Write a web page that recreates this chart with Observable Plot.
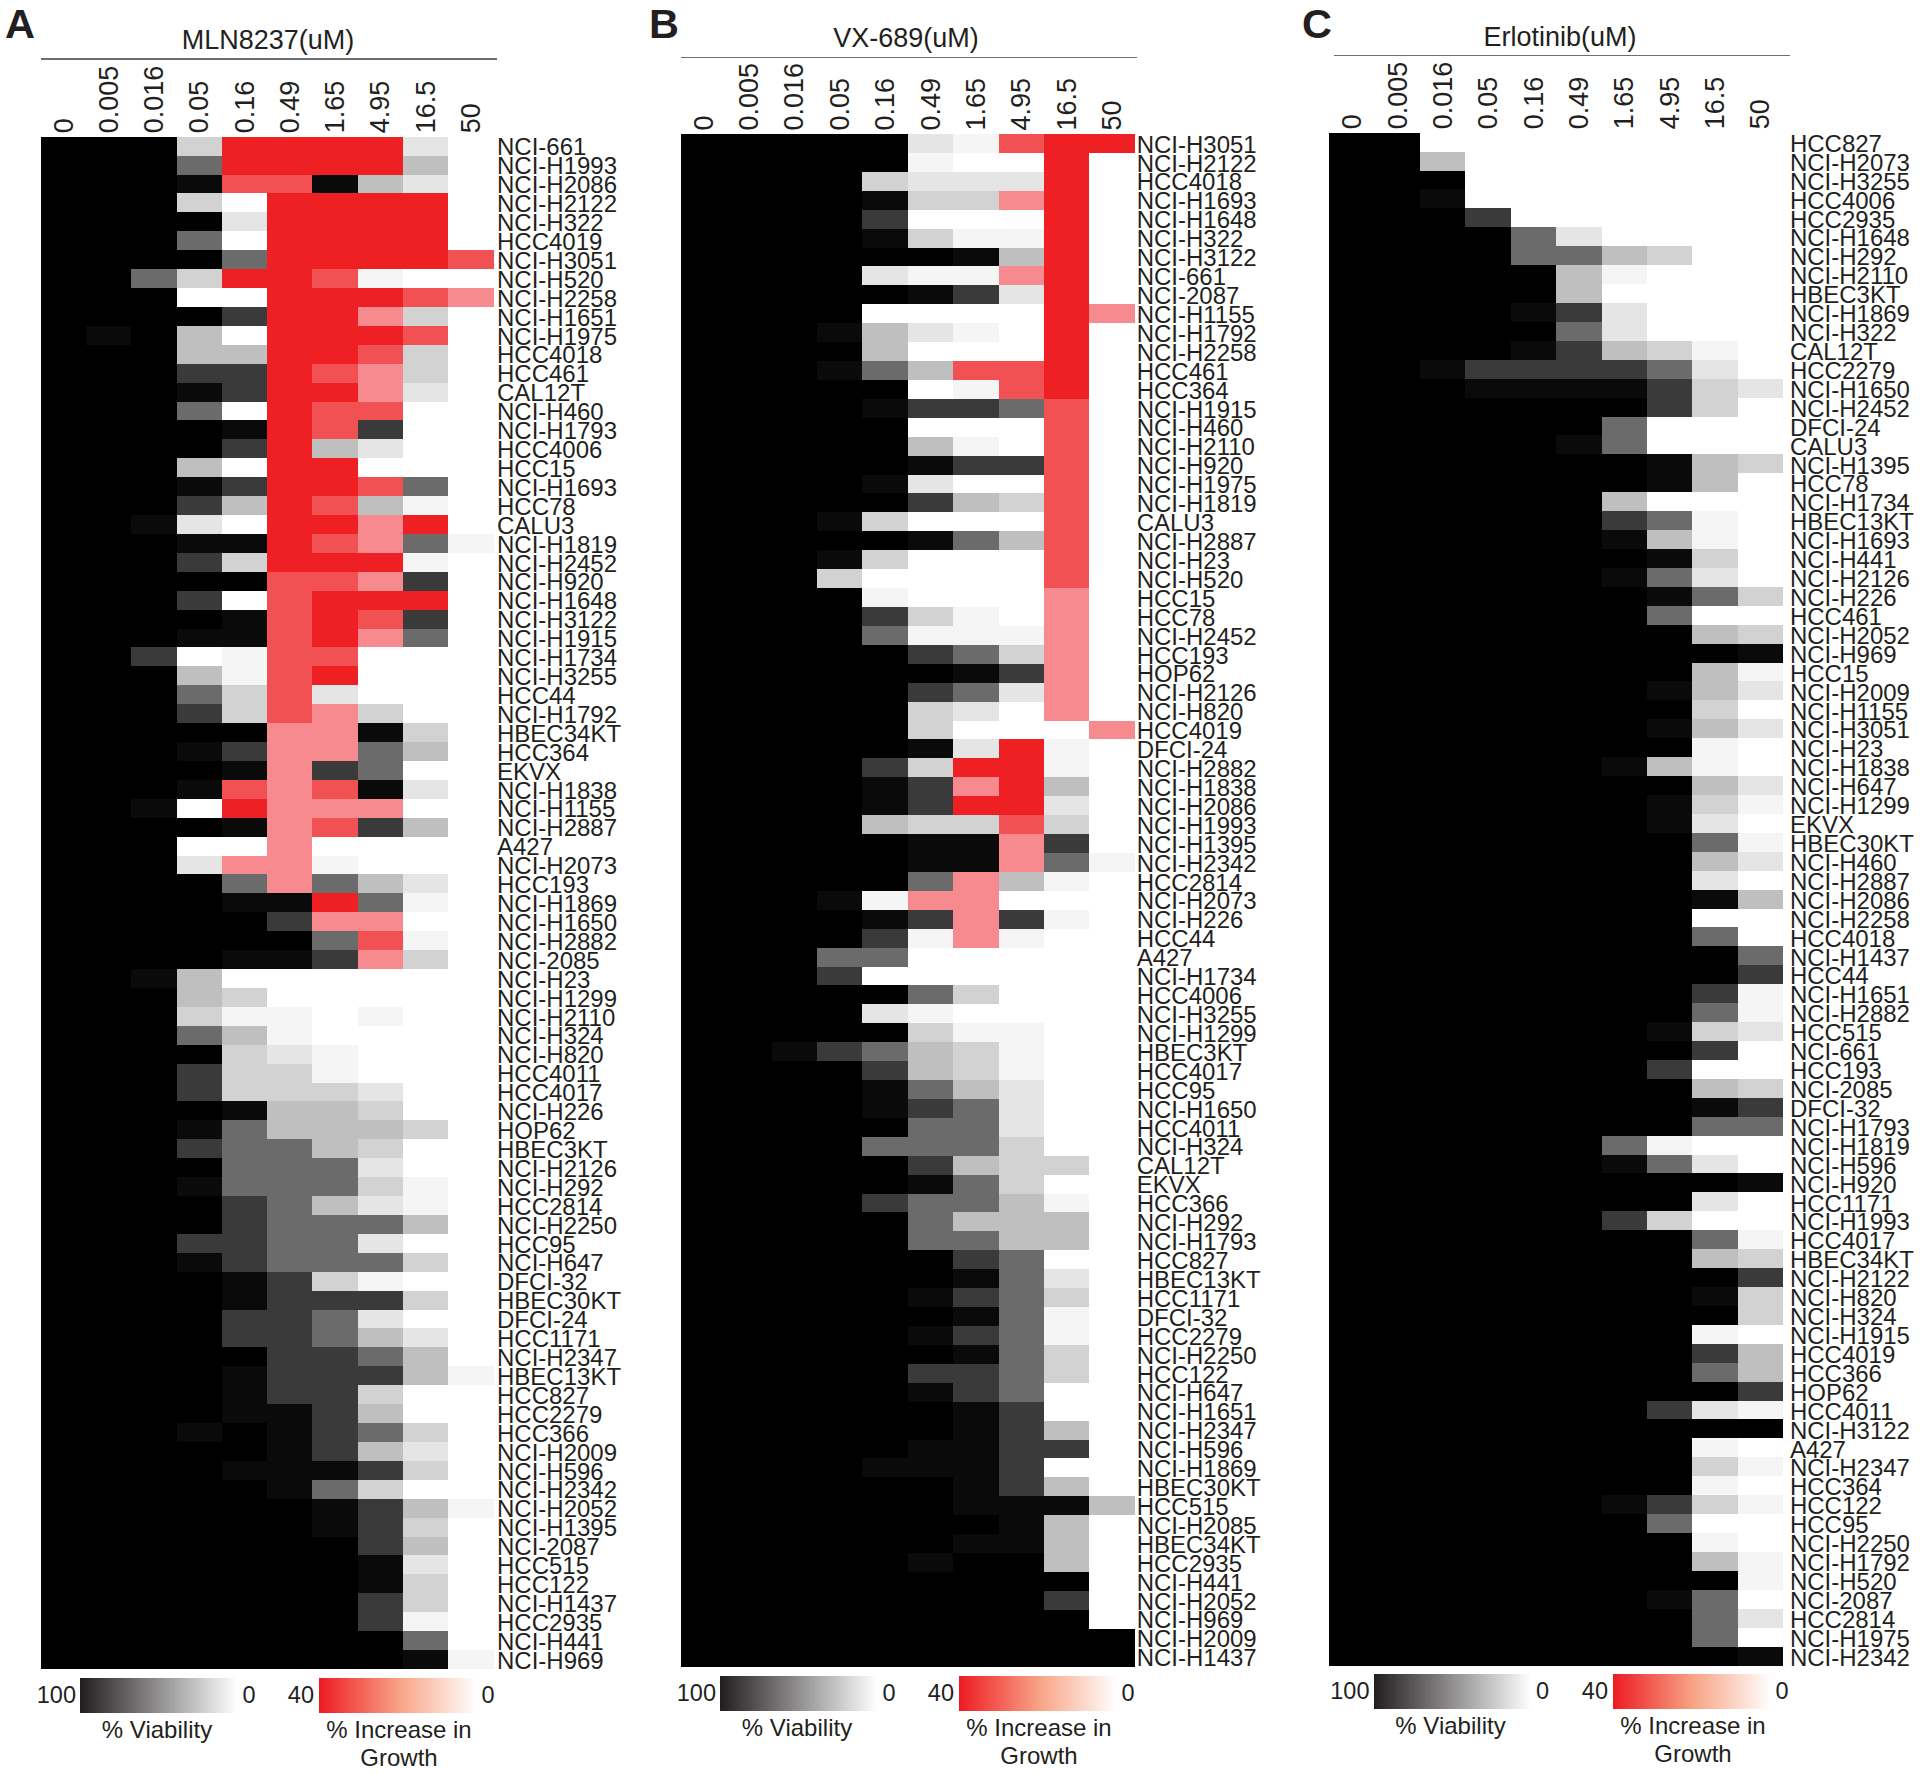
<!DOCTYPE html>
<html>
<head>
<meta charset="utf-8">
<script src="https://cdn.jsdelivr.net/npm/d3@7"></script>
<script src="https://cdn.jsdelivr.net/npm/@observablehq/plot@0.6"></script>
<style>
  html, body { margin: 0; padding: 0; background: #fff; }
  #root { position: relative; width: 1920px; height: 1773px; overflow: hidden; font-family: "Liberation Sans", Arial, sans-serif; color: #231f20; }
  #root > * { position: absolute; }
  .t { white-space: nowrap; line-height: 1; }
</style>
</head>
<body>
<div id="root"></div>
<script>
const concentrations = ["0","0.005","0.016","0.05","0.16","0.49","1.65","4.95","16.5","50"];

const labelsA = ["NCI-661","NCI-H1993","NCI-H2086","NCI-H2122","NCI-H322","HCC4019","NCI-H3051","NCI-H520","NCI-H2258","NCI-H1651",
"NCI-H1975","HCC4018","HCC461","CAL12T","NCI-H460","NCI-H1793","HCC4006","HCC15","NCI-H1693","HCC78",
"CALU3","NCI-H1819","NCI-H2452","NCI-H920","NCI-H1648","NCI-H3122","NCI-H1915","NCI-H1734","NCI-H3255","HCC44",
"NCI-H1792","HBEC34KT","HCC364","EKVX","NCI-H1838","NCI-H1155","NCI-H2887","A427","NCI-H2073","HCC193",
"NCI-H1869","NCI-H1650","NCI-H2882","NCI-2085","NCI-H23","NCI-H1299","NCI-H2110","NCI-H324","NCI-H820","HCC4011",
"HCC4017","NCI-H226","HOP62","HBEC3KT","NCI-H2126","NCI-H292","HCC2814","NCI-H2250","HCC95","NCI-H647",
"DFCI-32","HBEC30KT","DFCI-24","HCC1171","NCI-H2347","HBEC13KT","HCC827","HCC2279","HCC366","NCI-H2009",
"NCI-H596","NCI-H2342","NCI-H2052","NCI-H1395","NCI-2087","HCC515","HCC122","NCI-H1437","HCC2935","NCI-H441","NCI-H969"];

const labelsB = ["NCI-H3051","NCI-H2122","HCC4018","NCI-H1693","NCI-H1648","NCI-H322","NCI-H3122","NCI-661","NCI-2087","NCI-H1155",
"NCI-H1792","NCI-H2258","HCC461","HCC364","NCI-H1915","NCI-H460","NCI-H2110","NCI-H920","NCI-H1975","NCI-H1819",
"CALU3","NCI-H2887","NCI-H23","NCI-H520","HCC15","HCC78","NCI-H2452","HCC193","HOP62","NCI-H2126",
"NCI-H820","HCC4019","DFCI-24","NCI-H2882","NCI-H1838","NCI-H2086","NCI-H1993","NCI-H1395","NCI-H2342","HCC2814",
"NCI-H2073","NCI-H226","HCC44","A427","NCI-H1734","HCC4006","NCI-H3255","NCI-H1299","HBEC3KT","HCC4017",
"HCC95","NCI-H1650","HCC4011","NCI-H324","CAL12T","EKVX","HCC366","NCI-H292","NCI-H1793","HCC827",
"HBEC13KT","HCC1171","DFCI-32","HCC2279","NCI-H2250","HCC122","NCI-H647","NCI-H1651","NCI-H2347","NCI-H596",
"NCI-H1869","HBEC30KT","HCC515","NCI-H2085","HBEC34KT","HCC2935","NCI-H441","NCI-H2052","NCI-H969","NCI-H2009","NCI-H1437"];

const labelsC = ["HCC827","NCI-H2073","NCI-H3255","HCC4006","HCC2935","NCI-H1648","NCI-H292","NCI-H2110","HBEC3KT","NCI-H1869",
"NCI-H322","CAL12T","HCC2279","NCI-H1650","NCI-H2452","DFCI-24","CALU3","NCI-H1395","HCC78","NCI-H1734",
"HBEC13KT","NCI-H1693","NCI-H441","NCI-H2126","NCI-H226","HCC461","NCI-H2052","NCI-H969","HCC15","NCI-H2009",
"NCI-H1155","NCI-H3051","NCI-H23","NCI-H1838","NCI-H647","NCI-H1299","EKVX","HBEC30KT","NCI-H460","NCI-H2887",
"NCI-H2086","NCI-H2258","HCC4018","NCI-H1437","HCC44","NCI-H1651","NCI-H2882","HCC515","NCI-661","HCC193",
"NCI-2085","DFCI-32","NCI-H1793","NCI-H1819","NCI-H596","NCI-H920","HCC1171","NCI-H1993","HCC4017","HBEC34KT",
"NCI-H2122","NCI-H820","NCI-H324","NCI-H1915","HCC4019","HCC366","HOP62","HCC4011","NCI-H3122","A427",
"NCI-H2347","HCC364","HCC122","HCC95","NCI-H2250","NCI-H1792","NCI-H520","NCI-2087","HCC2814","NCI-H1975","NCI-H2342"];

// % viability when positive; % increase in growth as a negative number
const valuesA = [
[100,100,100,18,-40,-40,-40,-40,10,0],
[100,100,100,58,-40,-40,-40,-40,25,0],
[100,100,100,96,-30,-30,96,25,10,0],
[100,100,100,18,0,-40,-40,-40,-40,0],
[100,100,100,100,10,-40,-40,-40,-40,0],
[100,100,100,58,0,-40,-40,-40,-40,0],
[100,100,100,100,58,-40,-40,-40,-40,-30],
[100,100,58,18,-40,-40,-30,4,0,0],
[100,100,100,0,0,-40,-40,-40,-30,-20],
[100,100,100,100,77,-40,-40,-20,18,0],
[100,96,100,25,0,-40,-40,-40,-30,0],
[100,100,100,25,25,-40,-40,-30,18,0],
[100,100,100,77,77,-40,-30,-20,18,0],
[100,100,100,96,77,-40,-40,-20,10,0],
[100,100,100,58,0,-40,-30,-30,0,0],
[100,100,100,100,96,-40,-30,77,0,0],
[100,100,100,100,77,-40,25,10,0,0],
[100,100,100,25,0,-40,-40,0,0,0],
[100,100,100,96,77,-40,-40,-30,58,0],
[100,100,100,77,25,-40,-30,25,4,0],
[100,100,96,10,0,-40,-40,-20,-40,0],
[100,100,100,96,96,-40,-30,-20,58,4],
[100,100,100,77,18,-40,-40,-40,4,0],
[100,100,100,100,100,-30,-30,-20,77,0],
[100,100,100,77,0,-30,-40,-40,-40,0],
[100,100,100,100,96,-30,-40,-30,77,0],
[100,100,100,96,96,-30,-40,-20,58,0],
[100,100,77,0,4,-30,-30,0,0,0],
[100,100,100,25,4,-30,-40,0,0,0],
[100,100,100,58,18,-30,10,0,0,0],
[100,100,100,77,18,-30,-20,18,0,0],
[100,100,100,100,100,-20,-20,96,18,0],
[100,100,100,96,77,-20,-20,58,25,0],
[100,100,100,100,96,-20,77,58,0,0],
[100,100,100,96,-30,-20,-30,96,10,0],
[100,100,96,0,-40,-20,-20,-20,0,0],
[100,100,100,100,96,-20,-30,77,25,0],
[100,100,100,0,0,-20,0,0,0,0],
[100,100,100,10,-20,-20,4,0,0,0],
[100,100,100,100,58,-20,58,25,10,0],
[100,100,100,100,96,96,-40,58,4,0],
[100,100,100,100,100,77,-20,-20,0,0],
[100,100,100,100,100,100,58,-30,4,0],
[100,100,100,100,96,96,77,-20,18,0],
[100,100,96,25,0,0,0,0,0,0],
[100,100,100,25,18,0,0,0,0,0],
[100,100,100,18,4,4,0,4,0,0],
[100,100,100,58,25,4,0,0,0,0],
[100,100,100,100,18,10,4,0,0,0],
[100,100,100,77,18,18,4,0,0,0],
[100,100,100,77,18,18,18,10,0,0],
[100,100,100,100,96,25,25,18,0,0],
[100,100,100,96,58,25,25,25,18,0],
[100,100,100,77,58,58,25,18,0,0],
[100,100,100,100,58,58,58,10,0,0],
[100,100,100,96,58,58,58,18,4,0],
[100,100,100,100,77,58,25,10,4,0],
[100,100,100,100,77,58,58,58,25,0],
[100,100,100,77,77,58,58,10,0,0],
[100,100,100,96,77,58,58,58,18,0],
[100,100,100,100,96,77,18,4,0,0],
[100,100,100,100,96,77,77,77,18,0],
[100,100,100,100,77,77,58,10,0,0],
[100,100,100,100,77,77,58,25,10,0],
[100,100,100,100,100,77,77,58,25,0],
[100,100,100,100,96,77,77,77,25,4],
[100,100,100,100,96,77,77,18,0,0],
[100,100,100,100,96,96,77,25,0,0],
[100,100,100,96,100,96,77,58,18,0],
[100,100,100,100,100,96,77,25,10,0],
[100,100,100,100,96,96,96,77,18,0],
[100,100,100,100,100,96,58,18,0,0],
[100,100,100,100,100,100,96,77,25,4],
[100,100,100,100,100,100,96,77,18,0],
[100,100,100,100,100,100,100,77,25,0],
[100,100,100,100,100,100,100,96,10,0],
[100,100,100,100,100,100,100,96,18,0],
[100,100,100,100,100,100,100,77,18,0],
[100,100,100,100,100,100,100,77,4,0],
[100,100,100,100,100,100,100,100,58,0],
[100,100,100,100,100,100,100,100,96,4]];

const valuesB = [
[100,100,100,100,100,10,4,-30,-40,-40],
[100,100,100,100,100,4,0,0,-40,0],
[100,100,100,100,18,10,10,10,-40,0],
[100,100,100,100,96,18,18,-20,-40,0],
[100,100,100,100,77,0,0,0,-40,0],
[100,100,100,100,96,18,4,4,-40,0],
[100,100,100,100,100,100,96,25,-40,0],
[100,100,100,100,10,4,4,-20,-40,0],
[100,100,100,100,100,96,77,10,-40,0],
[100,100,100,100,0,0,0,0,-40,-20],
[100,100,100,96,25,10,4,0,-40,0],
[100,100,100,100,25,0,0,0,-40,0],
[100,100,100,96,58,25,-30,-30,-40,0],
[100,100,100,100,100,0,4,-30,-40,0],
[100,100,100,100,96,77,77,58,-30,0],
[100,100,100,100,100,0,0,0,-30,0],
[100,100,100,100,100,25,4,0,-30,0],
[100,100,100,100,100,96,77,77,-30,0],
[100,100,100,100,96,10,0,0,-30,0],
[100,100,100,100,100,77,25,18,-30,0],
[100,100,100,96,18,0,0,0,-30,0],
[100,100,100,100,100,96,58,25,-30,0],
[100,100,100,96,18,0,0,0,-30,0],
[100,100,100,18,0,0,0,0,-30,0],
[100,100,100,100,4,0,0,0,-20,0],
[100,100,100,100,77,18,4,0,-20,0],
[100,100,100,100,58,4,4,4,-20,0],
[100,100,100,100,100,77,58,18,-20,0],
[100,100,100,100,100,100,96,77,-20,0],
[100,100,100,100,100,77,58,10,-20,0],
[100,100,100,100,100,18,10,0,-20,0],
[100,100,100,100,100,18,0,0,0,-20],
[100,100,100,100,100,96,10,-40,4,0],
[100,100,100,100,77,18,-40,-40,4,0],
[100,100,100,100,96,77,-20,-40,25,0],
[100,100,100,100,96,77,-40,-40,10,0],
[100,100,100,100,25,18,18,-30,18,0],
[100,100,100,100,100,96,96,-20,77,0],
[100,100,100,100,100,96,96,-20,58,4],
[100,100,100,100,100,58,-20,25,4,0],
[100,100,100,96,4,-20,-20,0,0,0],
[100,100,100,100,96,77,-20,77,4,0],
[100,100,100,100,77,4,-20,4,0,0],
[100,100,100,58,58,0,0,0,0,0],
[100,100,100,77,0,0,0,0,0,0],
[100,100,100,100,100,58,18,0,0,0],
[100,100,100,100,10,4,0,0,0,0],
[100,100,100,100,100,18,4,4,0,0],
[100,100,96,77,58,25,18,4,0,0],
[100,100,100,100,77,25,18,4,0,0],
[100,100,100,100,96,58,25,10,0,0],
[100,100,100,100,96,77,58,10,0,0],
[100,100,100,100,100,58,58,10,0,0],
[100,100,100,100,58,58,58,18,0,0],
[100,100,100,100,100,77,25,18,18,0],
[100,100,100,100,100,96,58,18,0,0],
[100,100,100,100,77,58,58,25,4,0],
[100,100,100,100,100,58,25,25,25,0],
[100,100,100,100,100,58,58,25,25,0],
[100,100,100,100,100,100,77,58,0,0],
[100,100,100,100,100,100,96,58,10,0],
[100,100,100,100,100,96,77,58,18,0],
[100,100,100,100,100,100,96,58,4,0],
[100,100,100,100,100,96,77,58,4,0],
[100,100,100,100,100,100,96,58,18,0],
[100,100,100,100,100,77,77,58,18,0],
[100,100,100,100,100,96,77,58,0,0],
[100,100,100,100,100,100,96,77,0,0],
[100,100,100,100,100,100,96,77,25,0],
[100,100,100,100,100,96,96,77,77,0],
[100,100,100,100,96,96,96,77,0,0],
[100,100,100,100,100,100,96,77,25,0],
[100,100,100,100,100,100,96,96,96,25],
[100,100,100,100,100,100,100,96,25,0],
[100,100,100,100,100,100,96,96,25,0],
[100,100,100,100,100,96,100,100,25,0],
[100,100,100,100,100,100,100,100,100,0],
[100,100,100,100,100,100,100,100,77,0],
[100,100,100,100,100,100,100,100,100,0],
[100,100,100,100,100,100,100,100,100,100],
[100,100,100,100,100,100,100,100,100,100]];

const valuesC = [
[100,100,0,0,0,0,0,0,0,0],
[100,100,25,0,0,0,0,0,0,0],
[100,100,100,0,0,0,0,0,0,0],
[100,100,96,0,0,0,0,0,0,0],
[100,100,100,77,0,0,0,0,0,0],
[100,100,100,100,58,10,0,0,0,0],
[100,100,100,100,58,58,25,18,0,0],
[100,100,100,100,100,25,4,0,0,0],
[100,100,100,100,100,25,0,0,0,0],
[100,100,100,100,96,77,10,0,0,0],
[100,100,100,100,100,58,10,0,0,0],
[100,100,100,100,96,77,25,18,4,0],
[100,100,96,77,77,77,77,58,10,0],
[100,100,100,96,96,96,96,77,18,10],
[100,100,100,100,100,100,100,77,18,0],
[100,100,100,100,100,100,58,0,0,0],
[100,100,100,100,100,96,58,0,0,0],
[100,100,100,100,100,100,100,96,25,18],
[100,100,100,100,100,100,100,96,25,0],
[100,100,100,100,100,100,25,0,0,0],
[100,100,100,100,100,100,77,58,4,0],
[100,100,100,100,100,100,96,25,4,0],
[100,100,100,100,100,100,100,96,18,0],
[100,100,100,100,100,100,96,58,10,0],
[100,100,100,100,100,100,100,96,58,18],
[100,100,100,100,100,100,100,58,0,0],
[100,100,100,100,100,100,100,100,25,18],
[100,100,100,100,100,100,100,100,100,96],
[100,100,100,100,100,100,100,100,25,4],
[100,100,100,100,100,100,100,96,25,10],
[100,100,100,100,100,100,100,100,18,0],
[100,100,100,100,100,100,100,96,25,10],
[100,100,100,100,100,100,100,100,4,0],
[100,100,100,100,100,100,96,25,4,0],
[100,100,100,100,100,100,100,100,25,10],
[100,100,100,100,100,100,100,96,18,4],
[100,100,100,100,100,100,100,96,10,0],
[100,100,100,100,100,100,100,100,58,4],
[100,100,100,100,100,100,100,100,25,10],
[100,100,100,100,100,100,100,100,10,0],
[100,100,100,100,100,100,100,100,96,25],
[100,100,100,100,100,100,100,100,0,0],
[100,100,100,100,100,100,100,100,58,0],
[100,100,100,100,100,100,100,100,100,58],
[100,100,100,100,100,100,100,100,100,77],
[100,100,100,100,100,100,100,100,77,4],
[100,100,100,100,100,100,100,100,58,4],
[100,100,100,100,100,100,100,96,18,10],
[100,100,100,100,100,100,100,100,77,0],
[100,100,100,100,100,100,100,77,0,0],
[100,100,100,100,100,100,100,100,25,18],
[100,100,100,100,100,100,100,100,96,77],
[100,100,100,100,100,100,100,100,58,58],
[100,100,100,100,100,100,58,4,0,0],
[100,100,100,100,100,100,96,58,10,0],
[100,100,100,100,100,100,100,100,100,96],
[100,100,100,100,100,100,100,100,10,0],
[100,100,100,100,100,100,77,18,0,0],
[100,100,100,100,100,100,100,100,58,4],
[100,100,100,100,100,100,100,100,25,18],
[100,100,100,100,100,100,100,100,100,77],
[100,100,100,100,100,100,100,100,96,18],
[100,100,100,100,100,100,100,100,100,18],
[100,100,100,100,100,100,100,100,4,0],
[100,100,100,100,100,100,100,100,77,25],
[100,100,100,100,100,100,100,100,58,25],
[100,100,100,100,100,100,100,100,100,77],
[100,100,100,100,100,100,100,77,10,4],
[100,100,100,100,100,100,100,100,100,100],
[100,100,100,100,100,100,100,100,4,0],
[100,100,100,100,100,100,100,100,18,4],
[100,100,100,100,100,100,100,100,4,0],
[100,100,100,100,100,100,96,77,18,4],
[100,100,100,100,100,100,100,58,0,0],
[100,100,100,100,100,100,100,100,4,0],
[100,100,100,100,100,100,100,100,25,4],
[100,100,100,100,100,100,100,100,100,4],
[100,100,100,100,100,100,100,96,58,0],
[100,100,100,100,100,100,100,100,58,10],
[100,100,100,100,100,100,100,100,58,0],
[100,100,100,100,100,100,100,100,100,96]];

const colorThresholds = [-35,-25,-10,2,7,14,21,40,67,86,98];
const colorRange = ["#ee2024","#f15152","#f68a8e","#ffffff","#f5f5f5","#e5e5e5","#d2d2d2","#bfbfbf","#6b6b6b","#3a3a3a","#0a0a0a","#000000"];

const panels = [
  {letter:"A", drug:"MLN8237(uM)", labels:labelsA, values:valuesA, origin:0,    left:40.8,   right:493.5,  top:136.7, bottom:1669,   ruleY:59,   ruleL:41,   ruleR:497,  titleX:268,  titleB:50, letterX:5,    legendTop:1678, grey:80,   red:319,   labelPad:3, labelDy:1},
  {letter:"B", drug:"VX-689(uM)",  labels:labelsB, values:valuesB, origin:640,  left:680.8,  right:1134.7, top:134,   bottom:1666.6, ruleY:57.3, ruleL:681,  ruleR:1137, titleX:906,  titleB:48, letterX:649,  legendTop:1676, grey:720,  red:959,   labelPad:1.5, labelDy:1},
  {letter:"C", drug:"Erlotinib(uM)",labels:labelsC, values:valuesC, origin:1280, left:1329.4, right:1782.9, top:132.7, bottom:1665.5, ruleY:55.7, ruleL:1334, ruleR:1790, titleX:1560, titleB:47, letterX:1302, legendTop:1674, grey:1373.5, red:1613, labelPad:6.5, labelDy:1.5}
];

const root = document.getElementById("root");

function text(str, x, baseline, size, anchor = "start", weight = "normal") {
  const d = document.createElement("div");
  d.className = "t";
  d.textContent = str;
  d.style.fontSize = size + "px";
  d.style.fontWeight = weight;
  d.style.top = (baseline - size * 0.85) + "px";
  d.style.lineHeight = "1";
  if (anchor === "middle") { d.style.left = x + "px"; d.style.transform = "translateX(-50%)"; }
  else if (anchor === "end") { d.style.right = (1920 - x) + "px"; }
  else { d.style.left = x + "px"; }
  root.appendChild(d);
}

function ramp(x, top, w, h, domain, range) {
  const lg = Plot.legend({
    color: {type: "linear", domain, range},
    width: w, height: h, marginTop: 0, marginBottom: 0, marginLeft: 0, marginRight: 0,
    ticks: 0, tickSize: 0, label: null,
    style: {background: "transparent"}
  });
  lg.style.left = x + "px";
  lg.style.top = top + "px";
  lg.style.margin = "0";
  root.appendChild(lg);
}

for (const p of panels) {
  const cells = p.values.flatMap((row, i) => row.map((v, j) => ({line: p.labels[i], conc: concentrations[j], v})));
  const W = 640, panelLeft = p.left - p.origin, panelRight = p.right - p.origin;
  const svg = Plot.plot({
    width: W,
    height: p.bottom + 8,
    marginLeft: panelLeft,
    marginRight: W - panelRight,
    marginTop: p.top,
    marginBottom: 8,
    style: {background: "transparent", fontFamily: '"Liberation Sans", Arial, sans-serif', color: "#231f20", overflow: "visible"},
    x: {type: "band", domain: concentrations, padding: 0, round: false, label: null},
    y: {type: "band", domain: p.labels, padding: 0, round: false, label: null},
    color: {type: "threshold", domain: colorThresholds, range: colorRange},
    marks: [
      Plot.cell(cells, {x: "conc", y: "line", fill: "v", shapeRendering: "crispEdges"}),
      Plot.axisX({anchor: "top", tickSize: 0, tickRotate: -90, tickPadding: 4, fontSize: 27, label: null}),
      Plot.axisY({anchor: "right", tickSize: 0, tickPadding: p.labelPad, dy: p.labelDy, fontSize: 24, label: null})
    ]
  });
  svg.style.left = p.origin + "px";
  svg.style.top = "0px";
  root.appendChild(svg);

  text(p.letter, p.letterX, 38.5, 41.5, "start", "bold");
  text(p.drug, p.titleX, p.titleB, 27, "middle");
  const rule = document.createElement("div");
  rule.style.cssText = `left:${p.ruleL}px;top:${p.ruleY - 0.75}px;width:${p.ruleR - p.ruleL}px;height:1.5px;background:#6d6e71`;
  root.appendChild(rule);

  ramp(p.grey, p.legendTop, 157, 35, [100, 0], ["#231f20", "#ffffff"]);
  ramp(p.red, p.legendTop, 158, 35, [40, 20, 0], ["#ed1c24", "#f8a284", "#ffffff"]);
  text("100", p.grey - 4, p.legendTop + 26, 23.5, "end");
  text("0", p.grey + 169, p.legendTop + 26, 23.5, "middle");
  text("40", p.red - 5, p.legendTop + 26, 23.5, "end");
  text("0", p.red + 169, p.legendTop + 26, 23.5, "middle");
  text("% Viability", p.grey + 77, p.legendTop + 60, 24, "middle");
  text("% Increase in", p.red + 80, p.legendTop + 60, 24, "middle");
  text("Growth", p.red + 80, p.legendTop + 88.5, 24, "middle");
}
</script>
</body>
</html>
